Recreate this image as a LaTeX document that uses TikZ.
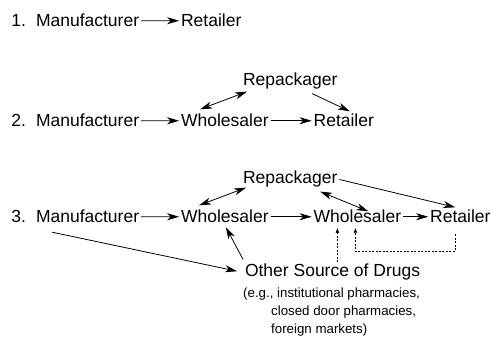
\documentclass[tikz,border=0pt]{standalone}
\usepackage{fontspec}
\setmainfont{Liberation Sans}
\usepackage{tikz}
\usetikzlibrary{arrows.meta,calc}
\usetikzlibrary{positioning}
\tikzstyle{actor}=[inner sep=2pt, outer sep=0pt, font=\fontsize{17.5}{21}\selectfont]
\tikzstyle{num}=[actor]
\tikzstyle{note}=[inner sep=0pt, align=left, font=\fontsize{13.3}{18.3}\selectfont]
\tikzstyle{myarrow}=[-{Stealth[length=12pt,width=7pt,inset=3.5pt]}, line width=0.8pt]
\tikzstyle{twoway}=[myarrow, {Stealth[length=12pt,width=7pt,inset=3.5pt]}-{Stealth[length=12pt,width=7pt,inset=3.5pt]}]
\tikzstyle{dotarrow}=[-{Stealth[length=5pt,width=3.5pt,inset=1pt]}, line width=0.6pt, dash pattern=on 2pt off 1.5pt]

\begin{document}
\begin{tikzpicture}[x=1pt, y=-1pt]
	\useasboundingbox (0,0) rectangle (491,339);

	% 1. direct
	\node[actor, anchor=base west] (M1) at (34,27) {Manufacturer} ;
	\node[num, base left=6pt of M1] (n1) {1.} ;
	\node[actor, base right=38pt of M1] (R1) {Retailer} ;
	\draw[myarrow] (M1) -- (R1) ;

	% 2. through one wholesaler
	\node[actor, anchor=base west] (M2) at (34,127) {Manufacturer} ;
	\node[num, base left=6pt of M2] (n2) {2.} ;
	\node[actor, base right=38pt of M2] (W2) {Wholesaler} ;
	\draw[myarrow] (M2) -- (W2) ;
	\node[actor, base right=41pt of W2] (R2) {Retailer} ;
	\draw[myarrow] (W2) -- (R2) ;
	\node[actor, anchor=base west] (P2) at (241,86) {Repackager} ;
	\draw[twoway] ($(W2.north west)+(21,-3)$) -- ($(P2.south west)+(6,0)$) ;
	\draw[myarrow] ($(P2.south)+(22,2)$) -- ($(R2.north)+(6,-1)$) ;

	% 3. secondary market
	\node[actor, anchor=base west] (M3) at (34,223) {Manufacturer} ;
	\node[num, base left=6pt of M3] (n3) {3.} ;
	\node[actor, base right=38pt of M3] (W3) {Wholesaler} ;
	\draw[myarrow] (M3) -- (W3) ;
	\node[actor, base right=41pt of W3] (WW3) {Wholesaler} ;
	\draw[myarrow] (W3) -- (WW3) ;
	\node[actor, base right=25pt of WW3] (R3) {Retailer} ;
	\draw[myarrow] (WW3) -- (R3) ;
	\node[actor, anchor=base west] (P3) at (241,184) {Repackager} ;
	\draw[twoway] ($(W3.north west)+(20,-3)$) -- ($(P3.south west)+(5,-2)$) ;
	\draw[twoway] ($(P3.south)+(30,2)$) -- ($(WW3.north)+(11,3)$) ;
	\draw[myarrow] (P3.east) -- ($(R3.north)+(-5,-1)$) ;

	\node[actor, anchor=base west] (O) at (243,277) {Other Source of Drugs} ;
	\node[note, anchor=north west] (eg) at (243,287.5) {(e.g., institutional pharmacies,\\
		\hspace*{28pt}closed door pharmacies,\\
		\hspace*{28pt}foreign markets)} ;
	\draw[myarrow, shorten >=6pt] ($(M3.south west)+(18,7)$) -- (O.west) ;
	\draw[myarrow] ($(O.north west)+(0,-3)$) -- ($(W3.south)+(1,2)$) ;

	\coordinate (d1) at ($(WW3.south)+(-20,3)$) ;
	\coordinate (d2) at ($(WW3.south)+(-2,3)$) ;
	\draw[dotarrow] (O.north -| d1) -- (d1) ;
	\draw[dotarrow] ($(R3.south)+(-5,9)$) |- ($(d2)+(0,23)$) -- (d2) ;
\end{tikzpicture}
\end{document}
